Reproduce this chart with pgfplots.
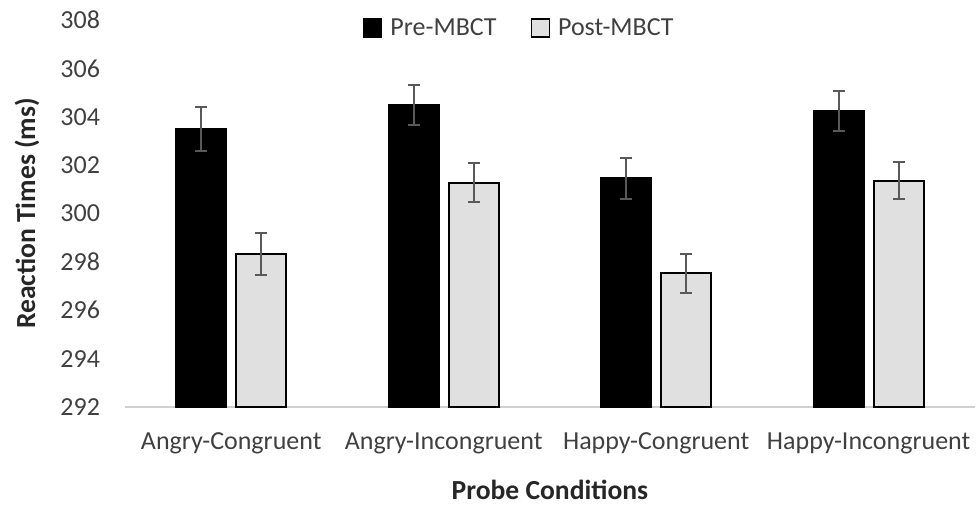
\documentclass[border=0pt]{standalone}
\usepackage{pgfplots}
\pgfplotsset{compat=1.18}
\usepackage{fontspec}
\setmainfont{Carlito}
\definecolor{txt}{HTML}{404040}
\definecolor{postfill}{HTML}{E0E0E0}
\definecolor{errc}{HTML}{595959}
\definecolor{axc}{HTML}{D0D0D0}
\begin{document}
\begin{tikzpicture}
\begin{axis}[
  scale only axis,
  width=425pt, height=193.5pt,
  ybar=5pt, bar width=25pt,
  xmin=-0.5, xmax=3.5,
  ymin=292, ymax=308,
  ytick={292,294,...,308},
  xtick=data,
  xticklabels={Angry-Congruent,Angry-Incongruent,Happy-Congruent,Happy-Incongruent},
  axis x line*=bottom,
  axis y line*=left,
  y axis line style={draw=none},
  x axis line style={draw=axc, line width=1pt},
  major tick length=0pt,
  ticklabel style={font=\fontsize{13}{15}\selectfont, text=txt},
  /pgf/number format/assume math mode=true,
  yticklabel style={xshift=-9pt},
  xticklabel style={yshift=-9.5pt},
  xlabel={\textbf{Probe Conditions}},
  ylabel={\textbf{Reaction Times (ms)}},
  label style={font=\fontsize{13.8}{15}\selectfont, text=black!85},
  xlabel style={at={(axis description cs:0.5,0)}, anchor=center, yshift=-41.5pt},
  ylabel style={at={(axis description cs:0,0.5)}, anchor=center, yshift=49pt},
  clip=false,
  legend columns=2,
  legend style={draw=none, fill=none, at={(0.465,0.979)}, anchor=center,
    font=\fontsize{13}{15}\selectfont, text=txt,
    /tikz/every odd column/.append style={column sep=2pt},
    /tikz/every even column/.append style={column sep=15pt}},
  legend image code/.code={\draw[#1, line width=0.8pt] (0pt,-4.5pt) rectangle (9pt,4.5pt);},
  error bars/y dir=both, error bars/y explicit,
  error bars/error bar style={draw=errc, line width=1pt},
  error bars/error mark options={rotate=90, mark size=3pt, draw=errc, line width=1pt},
]
\addplot[draw=black, fill=black, line width=1pt] coordinates {
  (0,303.49) +- (0,0.9)
  (1,304.50) +- (0,0.83)
  (2,301.45) +- (0,0.85)
  (3,304.23) +- (0,0.84)
};
\addplot[draw=black, fill=postfill, line width=1pt] coordinates {
  (0,298.32) +- (0,0.87)
  (1,301.28) +- (0,0.80)
  (2,297.52) +- (0,0.80)
  (3,301.35) +- (0,0.77)
};
\legend{Pre-MBCT,Post-MBCT}
\path (rel axis cs:0,0) ++(-62.5pt,-46pt) rectangle ++(488.5pt,249.5pt);
\end{axis}
\end{tikzpicture}
\end{document}
